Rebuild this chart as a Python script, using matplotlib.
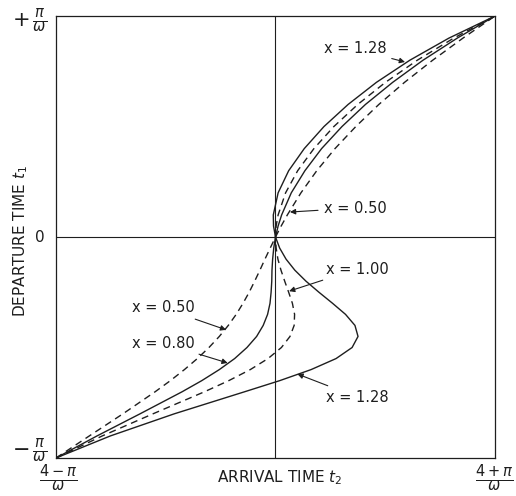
import matplotlib.pyplot as plt

# departure phase (units of pi/omega)
dep = [-1.0, -0.9, -0.8, -0.7, -0.65, -0.6, -0.55, -0.5, -0.45, -0.4, -0.35,
       -0.3, -0.25, -0.2, -0.15, -0.1, -0.05, 0.0, 0.05, 0.1, 0.2, 0.3, 0.4,
       0.5, 0.6, 0.7, 0.8, 0.9, 1.0]

# arrival phase relative to 4/omega (units of pi/omega), one list per X
arr_050 = [-1.0, -0.848, -0.695, -0.548, -0.479, -0.415, -0.356, -0.303, -0.256,
           -0.215, -0.179, -0.148, -0.120, -0.095, -0.071, -0.048, -0.024, 0.0,
           0.026, 0.054, 0.116, 0.188, 0.271, 0.366, 0.471, 0.588, 0.716, 0.854, 1.0]
arr_080 = [-1.0, -0.813, -0.617, -0.425, -0.336, -0.256, -0.186, -0.130, -0.086,
           -0.056, -0.036, -0.025, -0.020, -0.017, -0.016, -0.013, -0.008, 0.0,
           0.012, 0.028, 0.072, 0.134, 0.210, 0.303, 0.410, 0.534, 0.672, 0.828, 1.0]
arr_100 = [-1.0, -0.789, -0.558, -0.323, -0.213, -0.115, -0.034, 0.027, 0.066,
           0.085, 0.087, 0.077, 0.060, 0.042, 0.025, 0.011, 0.003, 0.0,
           0.003, 0.012, 0.046, 0.101, 0.175, 0.266, 0.375, 0.501, 0.646, 0.812, 1.0]
arr_128 = [-1.0, -0.752, -0.461, -0.140, 0.019, 0.162, 0.276, 0.349, 0.376,
           0.362, 0.319, 0.260, 0.198, 0.139, 0.088, 0.048, 0.019, 0.0,
           -0.009, -0.010, 0.012, 0.060, 0.131, 0.221, 0.331, 0.460, 0.612, 0.790, 1.0]

ink = "#1e1e1e"

fig = plt.figure(figsize=(5.16, 4.96), dpi=100)
ax = fig.add_axes([0.1085, 0.0766, 0.8508, 0.8911])

ax.plot(arr_050, dep, color=ink, lw=1.0, dashes=(5, 3.5))
ax.plot(arr_080, dep, color=ink, lw=1.0)
ax.plot(arr_100, dep, color=ink, lw=1.0, dashes=(5, 3.5))
ax.plot(arr_128, dep, color=ink, lw=1.0)

ax.axhline(0, color=ink, lw=0.8)
ax.axvline(0, color=ink, lw=0.8)

ax.set_xlim(-1, 1)
ax.set_ylim(-1, 1)
ax.set_xticks([])
ax.set_yticks([])
for s in ax.spines.values():
    s.set_color(ink)
    s.set_linewidth(0.9)

# curve labels with arrows
arrow = dict(arrowstyle="-|>", color=ink, lw=0.8, mutation_scale=8, shrinkA=2, shrinkB=0)
lab = dict(fontsize=10.5, color=ink, ha="center", va="center")
ax.annotate("x = 1.28", xy=(0.59, 0.792), xytext=(0.362, 0.851), arrowprops=arrow, **lab)
ax.annotate("x = 0.50", xy=(0.066, 0.113), xytext=(0.362, 0.131), arrowprops=arrow, **lab)
ax.annotate("x = 1.00", xy=(0.062, -0.245), xytext=(0.371, -0.145), arrowprops=arrow, **lab)
ax.annotate("x = 0.50", xy=(-0.225, -0.42), xytext=(-0.513, -0.321), arrowprops=arrow, **lab)
ax.annotate("x = 0.80", xy=(-0.218, -0.57), xytext=(-0.513, -0.48), arrowprops=arrow, **lab)
ax.annotate("x = 1.28", xy=(0.1, -0.62), xytext=(0.371, -0.724), arrowprops=arrow, **lab)

# axis end texts
frac = dict(fontsize=15, color=ink, ha="center", va="center")
fig.text(30 / 516, 1 - 21 / 496, r"$+\,\frac{\pi}{\omega}$", **frac)
fig.text(40 / 516, 1 - 237 / 496, "0", fontsize=11, color=ink, ha="center", va="center")
fig.text(30 / 516, 1 - 451 / 496, r"$-\,\frac{\pi}{\omega}$", **frac)
fig.text(58 / 516, 1 - 478 / 496, r"$\frac{4-\pi}{\omega}$", **frac)
fig.text(494 / 516, 1 - 478 / 496, r"$\frac{4+\pi}{\omega}$", **frac)

fig.text(280 / 516, 1 - 478 / 496, "ARRIVAL TIME $t_2$", fontsize=11, color=ink,
         ha="center", va="center")
fig.text(21 / 516, 1 - 241 / 496, "DEPARTURE TIME $t_1$", fontsize=11, color=ink,
         ha="center", va="center", rotation=90)

fig.savefig("out.png", dpi=100)
